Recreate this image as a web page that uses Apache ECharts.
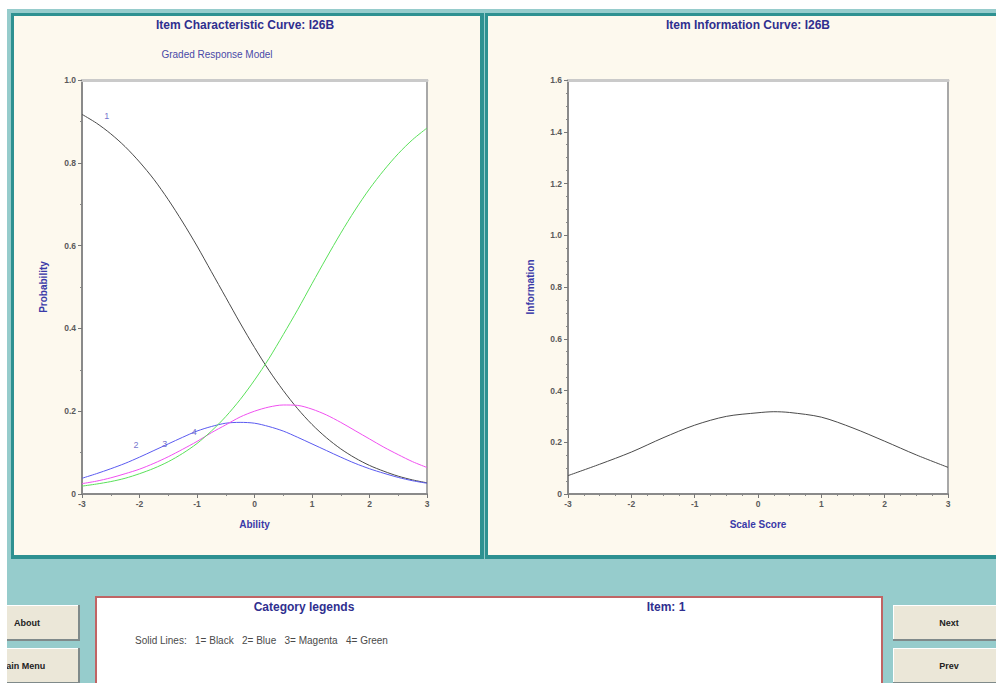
<!DOCTYPE html>
<html>
<head>
<meta charset="utf-8">
<script src="https://cdn.jsdelivr.net/npm/echarts@6/dist/echarts.min.js"></script>
<style>
html,body{margin:0;padding:0;background:#ffffff;}
#main{width:996px;height:683px;}
</style>
</head>
<body>
<div id="main"></div>
<script>
// ---- data ----
const theta = [-3, -2.75, -2.5, -2.25, -2, -1.75, -1.5, -1.25, -1, -0.75, -0.5, -0.25, 0,
               0.25, 0.5, 0.75, 1, 1.25, 1.5, 1.75, 2, 2.25, 2.5, 2.75, 3];
const cat1Black   = [0.917, 0.896, 0.870, 0.839, 0.802, 0.760, 0.711, 0.657, 0.599, 0.537, 0.475, 0.413, 0.354,
                     0.299, 0.250, 0.206, 0.168, 0.136, 0.109, 0.087, 0.069, 0.055, 0.043, 0.034, 0.027];
const cat2Blue    = [0.038, 0.049, 0.061, 0.074, 0.089, 0.105, 0.121, 0.137, 0.152, 0.163, 0.171, 0.173, 0.171,
                     0.163, 0.152, 0.137, 0.121, 0.105, 0.089, 0.074, 0.061, 0.050, 0.040, 0.032, 0.026];
const cat3Magenta = [0.025, 0.031, 0.039, 0.049, 0.060, 0.074, 0.090, 0.108, 0.127, 0.148, 0.167, 0.186, 0.200,
                     0.210, 0.215, 0.214, 0.205, 0.191, 0.173, 0.153, 0.133, 0.113, 0.095, 0.078, 0.064];
const cat4Green   = [0.019, 0.024, 0.030, 0.038, 0.049, 0.062, 0.078, 0.098, 0.122, 0.152, 0.187, 0.228, 0.275,
                     0.327, 0.385, 0.445, 0.508, 0.570, 0.630, 0.686, 0.737, 0.782, 0.822, 0.856, 0.884];

const infoTheta = [-3, -2.5, -2, -1.5, -1, -0.5, 0, 0.25, 0.5, 1, 1.5, 2, 2.5, 3];
const infoValues = [0.071, 0.115, 0.162, 0.217, 0.266, 0.300, 0.314, 0.318, 0.315, 0.297, 0.255, 0.204, 0.151, 0.103];

const curveLabelText = ['1', '2', '3', '4'];
const curveLabelX = [-2.57, -2.06, -1.56, -1.05];
const curveLabelY = [0.912, 0.118, 0.121, 0.150];

const xTicks = [-3, -2, -1, 0, 1, 2, 3];
const iccYTicks = ['0', '0.2', '0.4', '0.6', '0.8', '1.0'];
const infoYTicks = ['0', '0.2', '0.4', '0.6', '0.8', '1.0', '1.2', '1.4', '1.6'];

const iccTitle = 'Item Characteristic Curve: I26B';
const infoTitle = 'Item Information Curve: I26B';
const modelName = 'Graded Response Model';
const legendTitle = 'Category legends';
const itemTitle = 'Item: 1';
const legendLine = 'Solid Lines:\u00a0\u00a0 1= Black\u00a0\u00a0 2= Blue\u00a0\u00a0 3= Magenta\u00a0\u00a0 4= Green';

// ---- helpers ----
const FONT = 'Liberation Sans, Arial, sans-serif';
const NAVY = '#2f2f8f';
const pairs = (xs, ys) => xs.map((x, i) => [x, ys[i]]);
const fmt1 = v => (v === 0 ? '0' : v.toFixed(1));

function yAxisMain(gridIndex, max, interval, minorSplit, name, ticks, gap) {
  return {
    type: 'value', gridIndex, min: 0, max, interval, position: 'left',
    name, nameLocation: 'middle', nameGap: gap, nameRotate: 90,
    nameTextStyle: { color: '#3a3aa8', fontSize: 10, fontWeight: 'bold', fontFamily: FONT },
    axisLine: { show: true, onZero: false, lineStyle: { color: '#8a8a8a', width: 2 } },
    axisTick: { show: true, length: 4, inside: false, lineStyle: { color: '#777', width: 1 } },
    minorTick: { show: true, splitNumber: minorSplit, length: 2, lineStyle: { color: '#888' } },
    axisLabel: { color: '#5a5a5a', fontSize: 8.5, fontWeight: 'bold', fontFamily: FONT, margin: 6,
      formatter: v => { const s = fmt1(v); return ticks.indexOf(s) >= 0 ? s : ''; } },
    splitLine: { show: false }, minorSplitLine: { show: false }
  };
}
function yAxisRight(gridIndex, max) {
  return { type: 'value', gridIndex, min: 0, max, position: 'right',
    axisLine: { show: true, onZero: false, lineStyle: { color: '#a8a8a8', width: 2 } },
    axisTick: { show: false }, axisLabel: { show: false }, splitLine: { show: false } };
}
function xAxisMain(gridIndex, minorSplit, name) {
  return {
    type: 'value', gridIndex, min: -3, max: 3, interval: 1, position: 'bottom',
    name, nameLocation: 'middle', nameGap: 25,
    nameTextStyle: { color: '#3a3aa8', fontSize: 10, fontWeight: 'bold', fontFamily: FONT },
    axisLine: { show: true, onZero: false, lineStyle: { color: '#8a8a8a', width: 2 } },
    axisTick: { show: true, length: 4, lineStyle: { color: '#777' } },
    minorTick: { show: true, splitNumber: minorSplit, length: 2, lineStyle: { color: '#888' } },
    axisLabel: { color: '#5a5a5a', fontSize: 8.5, fontWeight: 'bold', fontFamily: FONT, margin: 5,
      formatter: v => (xTicks.indexOf(v) >= 0 ? String(v) : '') },
    splitLine: { show: false }, minorSplitLine: { show: false }
  };
}
function xAxisTop(gridIndex) {
  return { type: 'value', gridIndex, min: -3, max: 3, position: 'top',
    axisLine: { show: true, onZero: false, lineStyle: { color: '#cacaca', width: 3 } },
    axisTick: { show: false }, axisLabel: { show: false }, splitLine: { show: false } };
}
function line(name, xi, yi, data, color) {
  return { name, type: 'line', xAxisIndex: xi, yAxisIndex: yi, data, smooth: 0.3,
    showSymbol: false, symbol: 'none', lineStyle: { color, width: 1 }, silent: true, z: 3 };
}

function txt(x, y, text, opt) {
  return Object.assign({ type: 'text', x, y, silent: true,
    style: Object.assign({ text, fontFamily: FONT, fontSize: 9, fill: '#333', align: 'left', verticalAlign: 'middle' }, opt || {}) });
}
function rect(x, y, w, h, fill, extra) {
  return Object.assign({ type: 'rect', shape: { x, y, width: w, height: h }, silent: true,
    style: { fill } }, extra || {});
}
function button(x, y, w, h, label, cx) {
  return [
    rect(x, y, w, h, '#7f8a8a', { z: -5 }),
    rect(x, y, w - 2, h - 2, '#ffffff', { z: -5 }),
    rect(x + 1, y + 1, w - 3, h - 3, '#ebe7d8', { z: -5 }),
    Object.assign(txt(cx, y + h / 2, label, { align: 'center', fontSize: 9, fontWeight: 'bold', fill: '#222' }), { z: -4 })
  ];
}

const graphics = [
  // window background
  rect(7, 9, 989, 674, '#96cccc', { z: -10 }),
  // left panel
  rect(11, 13, 473, 546, '#2e9191', { z: -9 }),
  rect(14, 16, 466, 539, '#fdf9ee', { z: -8 }),
  // right panel
  rect(485, 13, 520, 546, '#2e9191', { z: -9 }),
  rect(488, 16, 520, 539, '#fdf9ee', { z: -8 }),
  // legend box
  rect(95, 596, 788, 100, '#c06464', { z: -7 }),
  rect(97, 598, 784, 100, '#ffffff', { z: -6 }),
  ...button(-30, 605, 110, 36, 'About', 27),
  ...button(-30, 648, 110, 36, 'Main Menu', 22),
  ...button(893, 605, 120, 36, 'Next', 949),
  ...button(893, 648, 120, 36, 'Prev', 949),
  // white strips at window edges
  rect(0, 0, 7, 683, '#ffffff', { z: -3 }),
  rect(0, 0, 996, 9, '#ffffff', { z: -3 }),
  // titles
  txt(245, 25, iccTitle, { align: 'center', fontSize: 12, fontWeight: 'bold', fill: NAVY }),
  txt(217, 54, modelName, { align: 'center', fontSize: 10, fill: '#4a4aa8' }),
  txt(748, 25, infoTitle, { align: 'center', fontSize: 12, fontWeight: 'bold', fill: NAVY }),
  txt(304, 607, legendTitle, { align: 'center', fontSize: 12, fontWeight: 'bold', fill: NAVY }),
  txt(666, 607, itemTitle, { align: 'center', fontSize: 12, fontWeight: 'bold', fill: NAVY }),
  txt(135, 640, legendLine, { fontSize: 10, fill: '#4a4a4a' })
];

const chart = echarts.init(document.getElementById('main'), null, { renderer: 'svg' });
chart.setOption({
  animation: false,
  backgroundColor: 'transparent',
  graphic: graphics,
  grid: [
    { left: 82, top: 80, width: 345, height: 414, show: true, backgroundColor: '#ffffff', borderWidth: 0, containLabel: false },
    { left: 568, top: 80, width: 380, height: 414, show: true, backgroundColor: '#ffffff', borderWidth: 0, containLabel: false }
  ],
  xAxis: [ xAxisMain(0, 2, 'Ability'), xAxisTop(0), xAxisMain(1, 4, 'Scale Score'), xAxisTop(1) ],
  yAxis: [
    yAxisMain(0, 1.0, 0.2, 2, 'Probability', iccYTicks, 34), yAxisRight(0, 1.0),
    yAxisMain(1, 1.6, 0.2, 4, 'Information', infoYTicks, 33), yAxisRight(1, 1.6)
  ],
  series: [
    line('1', 0, 0, pairs(theta, cat1Black), '#4a4a4a'),
    line('2', 0, 0, pairs(theta, cat2Blue), '#5a5af0'),
    line('3', 0, 0, pairs(theta, cat3Magenta), '#f050f0'),
    line('4', 0, 0, pairs(theta, cat4Green), '#5ae05a'),
    {
      type: 'scatter', xAxisIndex: 0, yAxisIndex: 0, symbolSize: 0, silent: true, z: 4,
      data: curveLabelText.map((t, i) => ({ value: [curveLabelX[i], curveLabelY[i]], name: t })),
      label: { show: true, position: 'inside', formatter: p => p.name, color: '#5050c0', fontSize: 9, fontFamily: FONT }
    },
    line('info', 2, 2, pairs(infoTheta, infoValues), '#4a4a4a')
  ]
});
</script>
</body>
</html>
